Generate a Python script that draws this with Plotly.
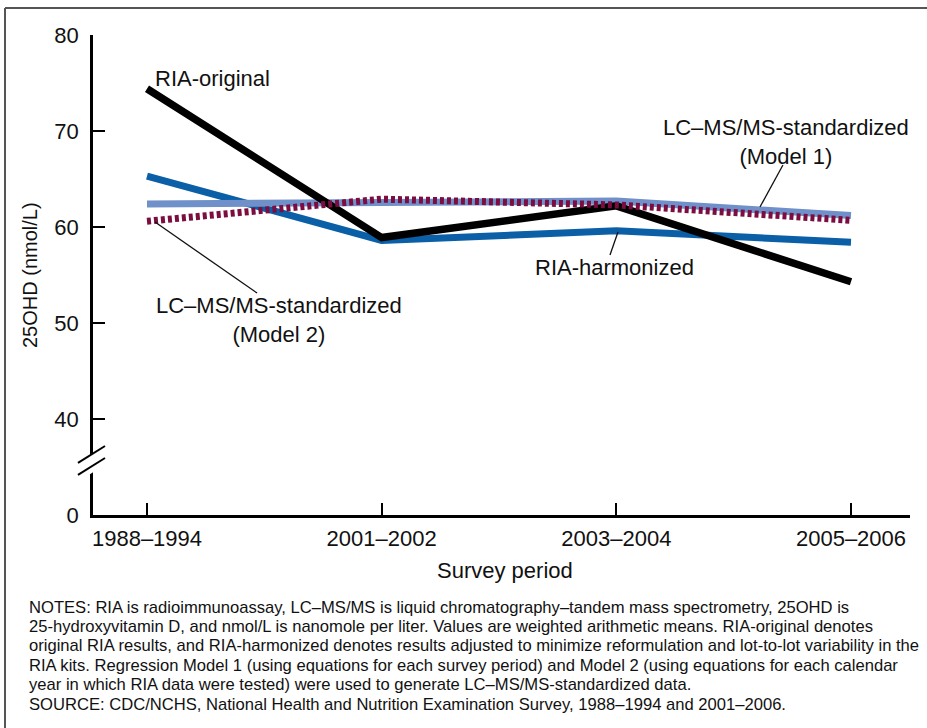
import plotly.graph_objects as go

# Survey periods and weighted mean serum 25OHD (nmol/L) by assay method
periods = ["1988–1994", "2001–2002", "2003–2004", "2005–2006"]
ria_original = [74.4, 58.9, 62.2, 54.3]
ria_harmonized = [65.3, 58.6, 59.6, 58.4]
lcms_model1 = [62.4, 62.5, 62.7, 61.2]
lcms_model2 = [60.6, 62.9, 62.3, 60.7]

# Broken y axis: the value 30 position carries the "0" label
ytick_vals = [30, 40, 50, 60, 70, 80]
ytick_text = ["0", "40", "50", "60", "70", "80"]

notes_lines = [
    "NOTES: RIA is radioimmunoassay, LC–MS/MS is liquid chromatography–tandem mass spectrometry, 25OHD is",
    "25-hydroxyvitamin D, and nmol/L is nanomole per liter. Values are weighted arithmetic means. RIA-original denotes",
    "original RIA results, and RIA-harmonized denotes results adjusted to minimize reformulation and lot-to-lot variability in the",
    "RIA kits. Regression Model 1 (using equations for each survey period) and Model 2 (using equations for each calendar",
    "year in which RIA data were tested) were used to generate LC–MS/MS-standardized data.",
    "SOURCE: CDC/NCHS, National Health and Nutrition Examination Survey, 1988–1994 and 2001–2006.",
]

FONT = "Liberation Sans, Arial, Helvetica, sans-serif"
W, H = 927, 728
ML, MR, MT, MB = 93, 17, 35, 213
PW, PH = W - ML - MR, H - MT - MB
XR = [-0.2301, 3.2514]
YR = [30, 80]


def px_x(px):
    return (px - ML) / PW


def px_y(py):
    return (H - MB - py) / PH


x = list(range(len(periods)))

fig = go.Figure()
fig.add_trace(go.Scatter(x=x, y=ria_harmonized, mode="lines",
                         line=dict(color="#0a5fa6", width=7), name="RIA-harmonized"))
fig.add_trace(go.Scatter(x=x, y=lcms_model1, mode="lines",
                         line=dict(color="#6f90c9", width=7), name="Model 1"))
fig.add_trace(go.Scatter(x=x, y=ria_original, mode="lines",
                         line=dict(color="#000000", width=7.5), name="RIA-original"))
fig.add_trace(go.Scatter(x=x, y=lcms_model2, mode="lines",
                         line=dict(color="#7b0d40", width=7, dash="4px,3px"), name="Model 2"))

label_font = dict(family=FONT, size=22, color="#111111")
annotations = [
    dict(x=0.026, y=75.5, xref="x", yref="y", text="RIA-original",
         xanchor="left", yanchor="middle", showarrow=False, font=label_font),
    dict(x=2.723, y=68.85, xref="x", yref="y",
         text="LC–MS/MS-standardized<br>(Model 1)",
         xanchor="center", yanchor="middle", showarrow=False, font=label_font),
    dict(x=1.994, y=55.83, xref="x", yref="y", text="RIA-harmonized",
         xanchor="center", yanchor="middle", showarrow=False, font=label_font),
    dict(x=0.5625, y=50.3, xref="x", yref="y",
         text="LC–MS/MS-standardized<br>(Model 2)",
         xanchor="center", yanchor="middle", showarrow=False, font=label_font),
    # axis titles
    dict(x=px_x(30), y=px_y(275), xref="paper", yref="paper", text="25OHD (nmol/L)",
         textangle=-90, showarrow=False, xanchor="center", yanchor="middle",
         font=dict(family=FONT, size=20, color="#111111")),
    dict(x=px_x(505), y=px_y(570), xref="paper", yref="paper", text="Survey period",
         showarrow=False, xanchor="center", yanchor="middle",
         font=dict(family=FONT, size=22, color="#111111")),
]

# notes block, one line per annotation for a tight line pitch
for i, line in enumerate(notes_lines):
    annotations.append(dict(
        x=px_x(27), y=px_y(607 + 19.4 * i), xref="paper", yref="paper",
        xanchor="left", yanchor="middle", showarrow=False, text=line,
        font=dict(family=FONT, size=16.6, color="#111111")))

leader = dict(color="#111111", width=1.3)
shapes = [
    # leader lines from labels to their series
    dict(type="line", xref="x", yref="y", x0=2.710, y0=66.46, x1=2.612, y1=62.08, line=leader),
    dict(type="line", xref="x", yref="y", x0=2.007, y0=59.48, x1=1.973, y1=57.08, line=leader),
    dict(type="line", xref="x", yref="y", x0=0.034, y0=60.52, x1=0.469, y1=53.12, line=leader),
    # gap in the y axis for the break mark
    dict(type="path", xref="paper", yref="y", layer="above",
         path=f"M {px_x(85)},35.9 L {px_x(101)},37.0 L {px_x(101)},35.0 L {px_x(85)},33.9 Z",
         fillcolor="white", line=dict(width=0)),
    dict(type="line", xref="paper", yref="y", layer="above",
         x0=px_x(78), y0=35.42, x1=px_x(105), y1=37.19, line=dict(color="black", width=2)),
    dict(type="line", xref="paper", yref="y", layer="above",
         x0=px_x(78), y0=34.17, x1=px_x(105), y1=35.94, line=dict(color="black", width=2)),
    # outer frame (top and left edges)
    dict(type="line", xref="paper", yref="paper", x0=px_x(5), y0=px_y(8), x1=px_x(940), y1=px_y(8),
         line=dict(color="#555555", width=2)),
    dict(type="line", xref="paper", yref="paper", x0=px_x(5), y0=px_y(8), x1=px_x(5), y1=px_y(740),
         line=dict(color="#555555", width=2)),
]

fig.update_layout(
    width=W, height=H,
    margin=dict(l=ML, r=MR, t=MT, b=MB),
    paper_bgcolor="white", plot_bgcolor="white",
    showlegend=False,
    font=dict(family=FONT, size=22, color="#111111"),
    annotations=annotations,
    shapes=shapes,
    xaxis=dict(range=XR, tickvals=x, ticktext=periods, showgrid=False, zeroline=False,
               showline=True, linecolor="black", linewidth=2.5,
               ticks="inside", ticklen=12, tickwidth=2, tickcolor="black",
               ticklabelstandoff=2, tickfont=dict(family=FONT, size=22, color="#111111")),
    yaxis=dict(range=YR, tickvals=ytick_vals, ticktext=ytick_text, showgrid=False,
               zeroline=False, showline=True, linecolor="black", linewidth=2.5,
               ticks="inside", ticklen=12, tickwidth=2, tickcolor="black",
               ticklabelstandoff=7, tickfont=dict(family=FONT, size=22, color="#111111")),
)

fig.write_html("out.html")
